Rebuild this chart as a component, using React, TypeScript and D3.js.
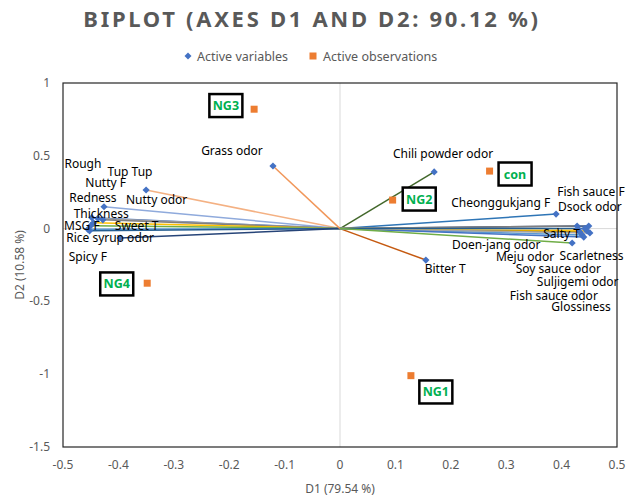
import React from "react";
import * as d3 from "d3";

const varNames = [
  "Nutty odor", "Redness", "Thickness", "Tup Tup", "Nutty F", "Rough", "Sweet T", "MSG F", "Spicy F", "Rice syrup odor",
  "Grass odor", "Chili powder odor", "Cheonggukjang F", "Bitter T",
  "Fish sauce F", "Dsock odor", "Salty T", "Scarletness", "Soy sauce odor", "Suljigemi odor", "Fish sauce odor", "Glossiness", "Meju odor", "Doen-jang odor",
];
const varD1 = [
  -0.350, -0.426, -0.448, -0.437, -0.428, -0.445, -0.450, -0.455, -0.452, -0.397,
  -0.121, 0.170, 0.390, 0.155,
  0.449, 0.428, 0.446, 0.433, 0.437, 0.451, 0.440, 0.430, 0.442, 0.419,
];
const varD2 = [
  0.265, 0.150, 0.075, 0.070, 0.060, 0.040, 0.020, -0.005, -0.015, -0.065,
  0.430, 0.389, 0.100, -0.216,
  0.018, 0.018, -0.016, -0.023, -0.044, -0.030, -0.058, -0.003, 0.000, -0.099,
];
// label anchor (data units)
const varLabelD1 = [
  -0.331, -0.446, -0.431, -0.379, -0.423, -0.464, -0.367, -0.466, -0.455, -0.415,
  -0.195, 0.186, 0.290, 0.190,
  0.453, 0.451, 0.400, 0.454, 0.394, 0.429, 0.386, 0.435, 0.334, 0.282,
];
const varLabelD2 = [
  0.196, 0.210, 0.100, 0.389, 0.313, 0.444, 0.018, 0.018, -0.195, -0.065,
  0.533, 0.512, 0.176, -0.277,
  0.251, 0.148, -0.037, -0.188, -0.277, -0.367, -0.463, -0.538, -0.195, -0.113,
];
const varColors = [
  "#F4B183", "#8FAADC", "#4472C4", "#A5A5A5", "#7F7F7F", "#FFC000", "#70AD47", "#5B9BD5", "#255E91", "#264478",
  "#F1975A", "#43682B", "#2E75B6", "#C55A11",
  "#264478", "#7F7F7F", "#FFC000", "#BF9000", "#5B9BD5", "#A5A5A5", "#4472C4", "#FFD966", "#255E91", "#70AD47",
];

const obsNames = ["NG3", "con", "NG2", "NG4", "NG1"];
const obsD1 = [-0.155, 0.270, 0.095, -0.348, 0.128];
const obsD2 = [0.820, 0.395, 0.196, -0.375, -1.010];
const obsLabelD1 = [-0.206, 0.316, 0.143, -0.403, 0.173];
const obsLabelD2 = [0.845, 0.375, 0.203, -0.380, -1.122];

const xTicks = [-0.5, -0.4, -0.3, -0.2, -0.1, 0, 0.1, 0.2, 0.3, 0.4, 0.5];
const yTicks = [1, 0.5, 0, -0.5, -1, -1.5];

const W = 629, H = 500;
const FONT = "'Noto Sans', sans-serif";
const GRAY = "#595959";

export default function App() {
  const x = d3.scaleLinear().domain([-0.5, 0.5]).range([63, 617]);
  const y = d3.scaleLinear().domain([-1.5, 1]).range([447, 83]);
  const fmt = (v: number) => (v === 0 ? "0" : String(v));
  const diamond = (cx: number, cy: number, r: number) =>
    `M${cx},${cy - r}L${cx + r},${cy}L${cx},${cy + r}L${cx - r},${cy}Z`;

  return (
    <svg width={W} height={H} style={{ position: "absolute", left: 0, top: 0, background: "#fff" }} fontFamily={FONT}>
      <rect x={0} y={0} width={W} height={H} fill="#fff" />
      <text x={312} y={27} textAnchor="middle" fontSize={22} fontWeight="bold" fill={GRAY} letterSpacing={2.7}>
        BIPLOT (AXES D1 AND D2: 90.12 %)
      </text>
      {/* legend */}
      <path d={diamond(188, 56, 3.5)} fill="#4472C4" />
      <text x={197} y={60.5} fontSize={12.5} fill={GRAY}>Active variables</text>
      <rect x={309.5} y={52.5} width={7} height={7} fill="#ED7D31" />
      <text x={323} y={60.5} fontSize={12.5} fill={GRAY}>Active observations</text>

      {/* zero lines */}
      <line x1={x(0)} x2={x(0)} y1={y(1)} y2={y(-1.5)} stroke="#D9D9D9" strokeWidth={1} />
      <line x1={x(-0.5)} x2={x(0.5)} y1={y(0)} y2={y(0)} stroke="#D9D9D9" strokeWidth={1} />
      {/* frame */}
      <rect x={x(-0.5)} y={y(1)} width={x(0.5) - x(-0.5)} height={y(-1.5) - y(1)} fill="none" stroke="#262626" strokeWidth={1.2} />

      {/* ticks */}
      {xTicks.map((t) => (
        <text key={"x" + t} x={x(t)} y={469} textAnchor="middle" fontSize={12} fill={GRAY}>{fmt(t)}</text>
      ))}
      {yTicks.map((t) => (
        <text key={"y" + t} x={50} y={y(t) + 4} textAnchor="end" fontSize={12} fill={GRAY}>{fmt(t)}</text>
      ))}
      <text x={340} y={493} textAnchor="middle" fontSize={12} fill={GRAY}>D1 (79.54 %)</text>
      <text transform={`translate(24,265) rotate(-90)`} textAnchor="middle" fontSize={12} fill={GRAY}>D2 (10.58 %)</text>

      {/* vectors */}
      {varNames.map((n, i) => (
        <line key={"l" + n} x1={x(0)} y1={y(0)} x2={x(varD1[i])} y2={y(varD2[i])} stroke={varColors[i]} strokeWidth={1.5} />
      ))}
      {varNames.map((n, i) => (
        <path key={"d" + n} d={diamond(x(varD1[i]), y(varD2[i]), 3.6)} fill="#4472C4" />
      ))}
      {obsNames.map((n, i) => (
        <rect key={"o" + n} x={x(obsD1[i]) - 3.5} y={y(obsD2[i]) - 3.5} width={7} height={7} fill="#ED7D31" />
      ))}

      {/* labels */}
      {varNames.map((n, i) => (
        <text key={"t" + n} x={x(varLabelD1[i])} y={y(varLabelD2[i]) + 4} textAnchor="middle" fontSize={12} fill="#000">{n}</text>
      ))}
      {obsNames.map((n, i) => (
        <g key={"ol" + n}>
          <rect x={x(obsLabelD1[i]) - 16.5} y={y(obsLabelD2[i]) - 11.5} width={33} height={23} fill="#fff" stroke="#000" strokeWidth={2.5} />
          <text x={x(obsLabelD1[i])} y={y(obsLabelD2[i]) + 4.5} textAnchor="middle" fontSize={12.5} fontWeight="bold" fill="#00B050">{n}</text>
        </g>
      ))}
    </svg>
  );
}
